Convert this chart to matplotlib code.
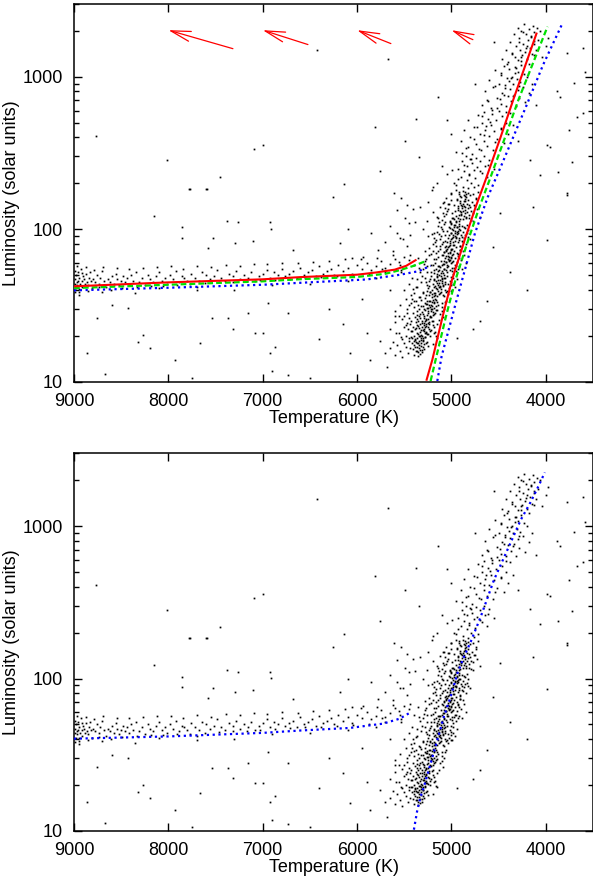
import matplotlib.pyplot as plt
import numpy as np
from matplotlib.ticker import FuncFormatter, NullFormatter, NullLocator

plt.rcParams['font.family'] = ['Liberation Sans', 'DejaVu Sans']
plt.rcParams['font.size'] = 13

# stars (temperature K, luminosity), same sample in both panels
hb_stars = [
    (8990,44),(8985,47),(8980,41),(8975,50),(8970,45),(8965,43),(8960,52),(8955,46),(8950,39),(8945,48),
    (8940,44),(8930,55),(8920,46),(8910,42),(8900,49),(8890,47),(8880,44),(8870,51),(8860,45),(8850,43),
    (8840,48),(8830,52),(8820,46),(8810,41),(8800,47),(8780,45),(8760,50),(8740,44),(8720,48),(8700,53),
    (8680,46),(8660,42),(8640,47),(8620,45),(8600,49),(8580,44),(8560,51),(8540,47),(8520,43),(8500,46),
    (8480,49),(8460,45),(8440,48),(8420,44),(8400,50),(8370,46),(8340,52),(8310,45),(8280,48),(8250,43),
    (8220,50),(8190,47),(8160,45),(8130,49),(8100,52),(8070,46),(8040,48),(8010,44),(7980,50),(7950,47),
    (7920,53),(7890,45),(7860,49),(7830,48),(7800,46),(7760,51),(7720,48),(7680,46),(7640,52),(7600,50),
    (7560,47),(7520,49),(7480,54),(7440,48),(7400,46),(7360,51),(7320,49),(7280,53),(7240,47),(7200,50),
    (7160,48),(7120,52),(7080,46),(7040,49),(7000,51),(6960,54),(6920,48),(6880,52),(6840,50),(6800,55),
    (6760,49),(6720,51),(6680,53),(6640,48),(6600,56),(6560,50),(6520,52),(6480,54),(6440,49),(6400,57),
    (6360,51),(6320,53),(6280,55),(6240,50),(6200,58),(6150,53),(6100,56),(6050,51),(6000,58),(5950,55),
    (5900,60),(5850,54),(5800,57),(5750,62),(5700,56),(5650,59),(5600,64),(5550,58),(5500,66),
    (8950,37),(8700,39),(8350,38),(8100,41),(7700,42),(7300,40),(6900,43),(6500,44),(6100,46),(5800,48),
    (8992,53),(8987,38.5),(8968,57),(8946,40.5),(8915,51.3),(8872,56.2),(8853,39.4),(8791,54.1),(8733,41.6),(8688,56.8),
    (8612,40.2),(8547,55.3),(8489,41.2),(8416,54.7),(8336,41.8),(8264,55.9),(8187,42.4),(8118,56.6),(8056,42.7),(7972,57.1),
    (7905,43.1),(7847,55.2),(7768,43.5),(7693,57.7),(7614,44.1),(7546,56.3),(7463,44.8),(7389,58.2),(7312,45.2),(7238,57.4),
    (7167,45.6),(7092,59.3),(7024,46.1),(6951,58.8),(6873,46.7),(6795,60.4),(6711,47.3),(6627,59.6),(6548,47.9),(6463,61.2),
    (6382,48.4),(6297,62.3),(6215,49.1),(6127,63.5),(6043,49.8),(5962,64.1),(5874,50.6),(5788,65.2),(5703,52.1),(5617,67.4),
    (5534,54.3),
]

clump_stars = [
    (5600,15),(5550,16),(5520,14.5),(5480,17),(5460,15.5),(5440,16.5),(5420,18),(5400,15),(5390,17),(5370,16),
    (5360,18),(5350,14.8),(5340,17.5),(5330,16.2),(5320,18),(5310,15.6),(5300,17),(5290,16.4),(5270,18),(5250,17.2),
    (5500,18),(5580,17.5),(5650,16.5),(5700,15.5),
    (5560,21),(5520,19),(5500,23),(5480,20),(5460,22),(5450,18.5),(5440,24),(5430,19.5),(5420,21.5),(5410,23),
    (5400,20),(5390,18.8),(5385,22),(5380,24.5),(5370,19.2),(5365,21),(5360,23.5),(5350,20.5),(5345,18.5),(5340,22.5),
    (5335,24),(5330,19.8),(5320,21.8),(5315,23),(5310,20),(5300,18.7),(5295,22.2),(5290,24.3),(5280,19.5),(5275,21.3),
    (5270,23.8),(5260,20.6),(5250,22.7),(5240,24.6),(5230,19.9),(5220,21.9),(5200,23.4),(5180,20.8),(5150,24),(5600,24.5),
    (5650,22),(5430,25),(5350,25),(5280,25),(5200,25),
    (5500,27),(5470,30),(5450,26),(5430,33),(5410,28),(5400,31),(5390,26.5),(5380,34),(5370,29),(5360,27.5),
    (5350,32),(5340,30),(5330,26),(5320,34.5),(5310,28.5),(5300,31.5),(5290,27),(5285,33),(5280,29.5),(5270,25.8),
    (5260,32.5),(5255,30.5),(5250,28),(5240,34),(5230,26.5),(5225,31),(5220,29),(5210,33.5),(5200,27.2),(5190,30.2),
    (5180,32.8),(5170,28.4),(5160,34.2),(5150,29.6),(5140,31.8),(5120,27.8),(5100,33),(5080,30),(5550,32),(5600,29),
    (5480,34.8),(5420,35),
    (5400,38),(5370,42),(5340,36),(5320,45),(5300,39),(5280,48),(5270,37),(5260,43),(5250,41),(5240,46),
    (5230,38.5),(5220,49),(5210,40),(5200,44),(5190,36.5),(5185,47),(5180,42),(5170,38),(5160,45.5),(5155,40.5),
    (5150,49.5),(5140,43),(5130,37.5),(5125,46.5),(5120,41.5),(5110,39),(5105,48),(5100,44.5),(5090,36.8),(5085,42.5),
    (5080,47.5),(5070,40),(5065,45),(5060,38.8),(5050,49),(5040,43.5),(5030,41),(5020,46),(5010,39.5),(5000,48.5),
    (4980,44),(4960,42),(5450,44),(5500,40),(5420,48),(4940,47),
    (5300,55),(5280,62),(5260,52),(5240,68),(5220,58),(5200,72),(5190,54),(5180,64),(5170,60),(5160,70),
    (5150,51),(5140,66),(5130,57),(5120,74),(5110,62),(5100,53),(5095,68),(5090,59),(5080,71),(5075,55),
    (5070,65),(5060,61),(5055,73),(5050,52),(5040,67),(5035,57),(5030,63),(5020,70),(5015,54),(5010,60),
    (5005,74),(5000,66),(4990,56),(4985,69),(4980,62),(4970,72),(4965,58),(4960,65),(4950,53),(4945,70),
    (4940,61),(4930,67),(4920,57),(4910,73),(4900,63),(4890,55),(4870,68),(5350,65),(5400,58),(4850,60),
    (5200,80),(5180,95),(5160,85),(5140,105),(5120,78),(5110,90),(5100,100),(5090,83),(5080,108),(5070,92),
    (5060,77),(5050,98),(5040,87),(5030,104),(5020,81),(5010,94),(5005,110),(5000,86),(4990,101),(4985,79),
    (4980,91),(4970,106),(4965,84),(4960,97),(4955,76),(4950,89),(4940,103),(4935,82),(4930,95),(4920,108),
    (4915,87),(4910,78),(4905,99),(4900,92),(4890,105),(4885,84),(4880,96),(4870,88),(4860,102),(4850,80),
    (4840,94),(4820,99),(4800,86),(5250,90),(5300,100),
    (5150,120),(5120,140),(5100,115),(5080,150),(5060,125),(5040,135),(5020,112),(5000,155),(4990,128),(4980,118),
    (4970,145),(4960,132),(4950,122),(4940,158),(4930,138),(4920,114),(4910,148),(4900,126),(4890,142),(4880,117),
    (4870,152),(4860,134),(4850,121),(4840,146),(4830,130),(4820,156),(4810,124),(4800,139),(4790,115),(4780,150),
    (4770,128),(4750,142),(4730,135),(4700,120),(5200,130),(5250,150),(4860,165),(4800,168),(4920,170),(4740,160),
]

# densest part of the red clump / lower giant branch
core_stars = [
    (5412,16.3),(5356,17.9),(5331,15.2),(5297,18.6),(5388,19.1),(5365,16.8),(5318,17.1),(5277,19.6),(5402,18.4),(5343,19.8),
    (5309,16.1),(5286,17.7),(5372,15.9),(5327,18.9),(5394,17.4),(5262,18.2),(5348,16.6),(5421,19.4),(5306,19.3),(5359,15.6),
    (5338,21.2),(5284,22.8),(5312,24.1),(5267,20.7),(5355,23.3),(5296,26.2),(5241,23.9),(5323,20.3),(5271,25.4),(5349,26.9),
    (5305,21.7),(5258,27.3),(5226,21.4),(5289,23.5),(5331,27.8),(5246,25.9),(5371,22.4),(5213,26.6),(5317,25.1),(5279,20.9),
    (5234,22.1),(5298,27.6),(5362,25.7),(5253,24.4),
    (5252,29.1),(5218,31.7),(5194,34.3),(5237,36.8),(5271,32.4),(5205,29.8),(5183,38.1),(5226,33.9),(5262,39.2),(5169,31.2),
    (5211,36.1),(5248,30.6),(5189,33.3),(5157,36.4),(5231,38.7),(5276,35.2),(5198,28.6),(5143,39.6),(5219,30.1),(5172,34.9),
    (5256,33.7),(5207,37.5),(5165,29.4),(5238,31.9),
    (5163,41.3),(5131,44.7),(5108,49.2),(5147,52.8),(5182,46.1),(5119,56.4),(5094,43.2),(5156,48.6),(5127,53.9),(5173,42.7),
    (5086,51.3),(5141,57.2),(5112,40.8),(5169,55.1),(5099,46.9),(5136,50.4),(5077,54.6),(5152,44.1),(5104,57.8),(5188,51.7),
    (5123,42.3),(5069,48.1),(5144,46.3),(5116,51.9),
    (5078,59.3),(5041,64.2),(5062,71.8),(5023,77.5),(5089,67.4),(5047,82.1),(5011,62.7),(5071,75.9),(5034,69.3),(5096,80.4),
    (5056,60.8),(5003,72.6),(5067,84.2),(5029,65.7),(5083,62.1),(5014,79.3),(5052,74.4),(4996,67.8),(5044,58.6),(5074,70.6),
    (5018,83.5),(5061,66.2),(5036,76.7),(4989,61.3),
    (4998,87.3),(4967,94.6),(5013,102),(4951,111),(4983,98.4),(5027,91.2),(4939,104),(4975,116),(5006,108),(4958,89.7),
    (4991,118),(4946,96.3),(5019,113),(4972,103),(4931,119),(5002,95.1),(4963,107),(4987,88.6),(4924,99.8),(4954,114),
    (4921,124),(4889,137),(4908,152),(4872,168),(4935,141),(4897,129),(4861,158),(4916,176),(4882,147),(4928,133),
    (4853,139),(4903,163),(4869,122),(4941,155),(4876,179),(4894,144),(4847,171),(4911,131),
    (5377,18.3),(5324,19.4),(5291,21.6),(5265,23.2),(5246,20.4),(5229,27.1),(5202,31.4),(5188,27.9),(5176,36.8),(5151,33.2),
    (5134,41.9),(5117,38.2),(5098,45.4),(5083,49.8),(5072,43.7),(5058,53.6),(5046,56.9),(5031,61.8),(5019,70.9),(5008,65.1),
    (4992,74.2),(4979,82.7),(4968,78.6),(4956,87.9),(4944,92.8),(4932,97.5),(4918,105),(4906,116),(4894,123),(4881,131),
    (4867,142),(4852,153),(4841,162),(4826,174),
]

# edges of the clump, hotter and cooler side
flank_stars = [
    (5540,19.5),(5585,20.8),(5520,25.6),(5470,28.3),(5455,31.7),(5430,37.2),(5395,33.6),(5380,41.5),(5360,46.8),(5335,52.4),
    (5310,49.1),(5295,58.7),(5270,63.9),(5255,57.3),(5235,74.8),(5215,69.2),(5190,87.6),(5165,78.1),(5150,96.5),(5130,112),
    (5110,104),(5090,127),(5070,138),(5055,161),(5035,147),(5010,172),(5485,23.7),(5615,18.2),(5560,26.9),(5410,40.3),
    (5345,55.8),(5280,71.4),(5205,92.3),(5140,118),(5085,149),
    (5195,17.6),(5170,21.3),(5130,25.2),(5105,28.9),(5060,33.8),(5040,37.6),(5010,42.9),(4985,51.2),(4955,57.4),(4925,64.8),
    (4905,73.1),(4880,82.6),(4860,91.4),(4835,107),(4810,118),(4790,131),(4760,143),(4745,157),(4720,176),(5150,19.4),
    (5085,26.4),(4995,39.8),(4935,55.1),(4875,71.9),(4825,89.3),(4775,113),
    (5430,21.6),(5445,19.3),(5180,22.7),(5165,19.8),(5470,24.2),(5205,24.9),
    (5330,35.8),(5300,38.4),(5295,29.9),(5080,36.3),(5065,33.1),(5045,39.4),(5320,31.3),(5095,30.8),
    (5240,42.6),(5215,52.1),(5195,58.3),(5005,44.8),(4985,47.9),(4968,55.6),(5228,47.2),(4995,53.3),(5268,44.9),
    (5165,63.7),(5143,72.3),(5121,86.1),(4935,68.4),(4912,77.2),(4893,89.3),(5178,81.8),(4922,84.4),(5132,93.2),
    (5085,97.4),(5066,112),(5043,131),(4868,104),(4846,118),(4827,137),(5028,146),(4812,145),(5074,122),(4857,127),
]

upper_rgb_stars = [
    (5000,170),(4970,200),(4950,180),(4930,250),(4910,165),(4900,220),(4890,280),(4880,190),(4870,240),(4860,175),
    (4850,300),(4840,210),(4830,260),(4820,185),(4810,230),(4800,290),(4790,200),(4780,270),(4770,170),(4760,245),
    (4750,215),(4740,295),(4730,255),(4720,195),(4700,280),(4680,235),(4660,300),(4640,260),(4620,220),(4600,285),
    (5050,230),(5100,260),(5150,200),(4550,250),
    (4950,320),(4900,380),(4870,450),(4850,340),(4820,520),(4800,400),(4780,310),(4760,470),(4740,360),(4720,560),
    (4700,420),(4690,330),(4680,500),(4660,380),(4650,590),(4640,450),(4620,350),(4610,530),(4600,410),(4580,480),
    (4570,570),(4560,330),(4550,440),(4530,520),(4520,390),(4500,600),(4480,460),(4460,550),(4440,370),(4420,500),
    (4400,420),(4380,580),(4350,480),(5000,420),(5050,520),(4300,380),
    (4680,650),(4640,800),(4620,700),(4600,950),(4580,620),(4560,850),(4540,1100),(4520,730),(4500,900),(4480,660),
    (4470,1050),(4460,780),(4440,1180),(4430,880),(4420,640),(4410,980),(4400,750),(4390,1120),(4380,830),(4370,690),
    (4360,1000),(4350,900),(4340,760),(4330,1150),(4320,640),(4310,960),(4300,820),(4290,1080),(4280,720),(4270,920),
    (4260,1190),(4240,860),(4220,680),(4200,1000),(4180,780),(4150,900),(4750,900),(4100,650),
    (4460,1300),(4420,1500),(4400,1250),(4380,1700),(4360,1400),(4340,1900),(4330,1350),(4320,1600),(4300,2100),(4290,1280),
    (4280,1800),(4270,1500),(4260,2000),(4250,1380),(4240,1650),(4230,2200),(4220,1450),(4210,1900),(4200,1300),(4190,1750),
    (4180,2050),(4170,1550),(4160,1850),(4150,1400),(4140,2150),(4130,1650),(4120,1950),(4100,1500),(4080,1750),(4060,2000),
    (4040,1350),(4000,1600),(3980,1800),(4550,1700),
    (4935,212),(4868,263),(4712,338),(4792,287),(4654,412),(4823,347),(4587,507),(4731,466),(4518,627),(4672,551),
    (4447,762),(4609,688),(4392,931),(4535,874),(4327,1063),(4473,1026),(4263,1276),(4412,1213),(4214,1532),(4356,1427),
    (4158,1827),(4289,1688),(4097,2081),(4243,1963),(4996,243),(4884,318),(4757,392),(4633,478),(4569,603),(4488,712),
    (4436,845),(4371,988),(4312,1147),(4262,1352),(4199,1598),(4121,1702),(4953,196),(4817,226),(4763,188),(4702,241),
    (4612,265),(4538,372),(4475,455),(4421,590),(4349,742),(4285,865),(4236,1040),(4174,1210),(4125,1380),
]

field_stars = [
    (8767,410),(8015,283),(7782,183),(7602,183),(7453,219),(7094,335),(6998,358),(6426,1500),(5674,1310),(5144,740),
    (5377,527),(5811,470),(5494,380),(5345,297),(5757,240),(6140,197),(5610,172),(5197,189),
    (3608,1550),(3778,1440),(3587,1070),(3703,910),(3852,740),(3884,800),(3958,347),(3672,545),(3756,445),(3725,276),
    (3873,237),(3990,357),(3608,580),(4063,227),(4169,284),(3778,167),
    (6256,162),(6097,100),(5780,73),(5938,66),(5737,55),(6182,81),(5441,68),(5547,87),(5578,133),(5335,139),
    (5261,114),(5208,180),(4487,127),(4201,40),(4381,52),(4699,25),(4137,139),(3778,172),(3990,85),(4561,76),
    (4625,34),(4943,19.2),(4773,22),(6500,10.6),(6076,15.3),(5864,13.8),(5758,18.6),(5684,12.4),
    (8756,26.3),(8862,15.5),(8672,11.3),(8597,31.6),(8428,30.2),(8322,18.1),(8269,20.1),(8195,16.5),(8153,122),(7930,13.8),
    (7856,88),(7856,103),(7771,183),(7750,10.6),(7697,39.7),(7665,17.8),(7591,183),(7580,75),(7538,26),(7527,87),
    (7379,114),(7368,26),(7316,22.3),(7294,81),(7263,111),(7157,28),(7104,84),(7083,20.7),(6998,20.7),(6945,33),
    (6924,111),(6913,101),(6924,15.5),(6903,11.8),(6871,16.9),(6733,28),(6733,11.1),(6680,73),
    (6300,30),(6150,24),(5950,35),(5900,21),(5650,40),(5600,27),(6400,19),(6050,65),(5850,95),(5450,110),
    (5620,72),(5580,95),(5530,52),(5490,118),(5470,78),(5560,61),(5435,92),(5410,135),(5515,86),(5475,145),
    (5385,112),(5455,63),(5650,105),(5700,82),(5540,160),
]

# fitted tracks, top panel
red_hb_T = [9000, 8000, 7000, 6600, 6000, 5800, 5600, 5480, 5380]
red_hb_L = [42.2, 44.8, 46.9, 48.5, 50.3, 52.0, 54.3, 57.5, 62.6]
red_rgb_T = [5263, 5203, 5097, 4995, 4860, 4745, 4640, 4480, 4345, 4099]
red_rgb_L = [10.3, 13.9, 26.2, 46.4, 85, 139, 209, 400, 706, 1918]

green_hb_T = [9000, 8000, 7000, 6600, 6000, 5700, 5550, 5400, 5285]
green_hb_L = [41.1, 43.2, 45.5, 47.0, 48.6, 51.0, 53.8, 57.5, 61.3]
green_rgb_T = [5221, 5168, 5062, 4958, 4822, 4705, 4598, 4432, 4290, 3982]
green_rgb_L = [10.1, 13.9, 26.2, 46.4, 85, 139, 209, 400, 706, 2130]

blue_hb_T = [9000, 8000, 7000, 6600, 5900, 5550, 5350, 5221]
blue_hb_L = [39.7, 41.3, 43.2, 44.5, 46.8, 50.2, 53.0, 57.5]
blue_rgb_T = [5150, 5104, 4945, 4750, 4616, 4478, 4212, 4029, 3823]
blue_rgb_L = [10.1, 14.7, 34.4, 94.5, 162, 256, 632, 1196, 2245]

# bottom panel track
bot_hb_T = [9000, 8000, 7000, 6600, 6076, 5723, 5550, 5433]
bot_hb_L = [40.3, 41.7, 44.0, 45.6, 47.4, 50.6, 54.5, 60.0]
bot_rgb_T = [5398, 5362, 5327, 5292, 5221, 5150, 5080, 5008, 4937, 4867, 4796, 4690, 4549, 4407, 4265, 4159, 4071, 4011]
bot_rgb_L = [10.2, 13.7, 16.8, 19.5, 27.7, 39.5, 56.3, 76.2, 108, 139, 174, 254, 444, 698, 1099, 1444, 1863, 2247]

# arrows (tail -> head)
arrow_tail_T = [7316, 6521, 5642, 4773]
arrow_tail_L = [1527, 1625, 1649, 1750]
arrow_head_T = [8000, 7000, 6000, 5000]
arrow_head_L = [2020, 2020, 2020, 2020]

stars = np.array(hb_stars + clump_stars + core_stars + flank_stars + upper_rgb_stars + field_stars)

fig = plt.figure(figsize=(5.93, 8.8), dpi=100)
ax1 = fig.add_axes([0.1248, 0.5663, 0.8752, 0.4292])
ax2 = fig.add_axes([0.1248, 0.0557, 0.8752, 0.4292])

dot = (0, (1, 1.6))
dash = (0, (2.6, 1.4))

for ax in [ax1, ax2]:
    ax.plot(stars[:, 0], stars[:, 1], 's', color='black', ms=1.25, mew=0, zorder=1)
    ax.set_yscale('log')
    ax.set_xlim(9000, 3500)
    ax.set_ylim(10, 3000)
    ax.set_xticks([9000, 8000, 7000, 6000, 5000, 4000])
    ax.xaxis.set_minor_locator(NullLocator())
    ax.yaxis.set_major_formatter(FuncFormatter(lambda v, p: '%d' % v))
    ax.yaxis.set_minor_formatter(NullFormatter())
    ax.tick_params(which='both', direction='in', top=True, right=True, width=1)
    ax.tick_params(which='major', length=6)
    ax.tick_params(which='minor', length=3.5)
    ax.tick_params(axis='x', pad=8)
    ax.tick_params(axis='y', pad=8)
    for s in ax.spines.values():
        s.set_linewidth(1.1)
    ax.set_xlabel('Temperature (K)', labelpad=0)
    ax.set_ylabel('Luminosity (solar units)', labelpad=2)

ax1.plot(blue_hb_T, blue_hb_L, color='#0000ff', lw=1.6, ls=dot, zorder=3)
ax1.plot(blue_rgb_T, blue_rgb_L, color='#0000ff', lw=1.6, ls=dot, zorder=3)
ax1.plot(green_hb_T, green_hb_L, color='#00e000', lw=1.6, ls=dash, zorder=4)
ax1.plot(green_rgb_T, green_rgb_L, color='#00e000', lw=1.6, ls=dash, zorder=4)
ax1.plot(red_hb_T, red_hb_L, color='#ff0000', lw=1.5, zorder=5)
ax1.plot(red_rgb_T, red_rgb_L, color='#ff0000', lw=1.5, zorder=5)

for i in range(len(arrow_head_T)):
    ax1.annotate('', xy=(arrow_head_T[i], arrow_head_L[i]), xytext=(arrow_tail_T[i], arrow_tail_L[i]),
                 arrowprops=dict(arrowstyle='->,head_length=1.1,head_width=0.28', color='#ff0000',
                                 lw=0.9, shrinkA=0, shrinkB=0))

ax2.plot(bot_hb_T, bot_hb_L, color='#0000ff', lw=1.6, ls=dot, zorder=3)
ax2.plot(bot_rgb_T, bot_rgb_L, color='#0000ff', lw=1.6, ls=dot, zorder=3)

fig.savefig('out.png', dpi=100)
